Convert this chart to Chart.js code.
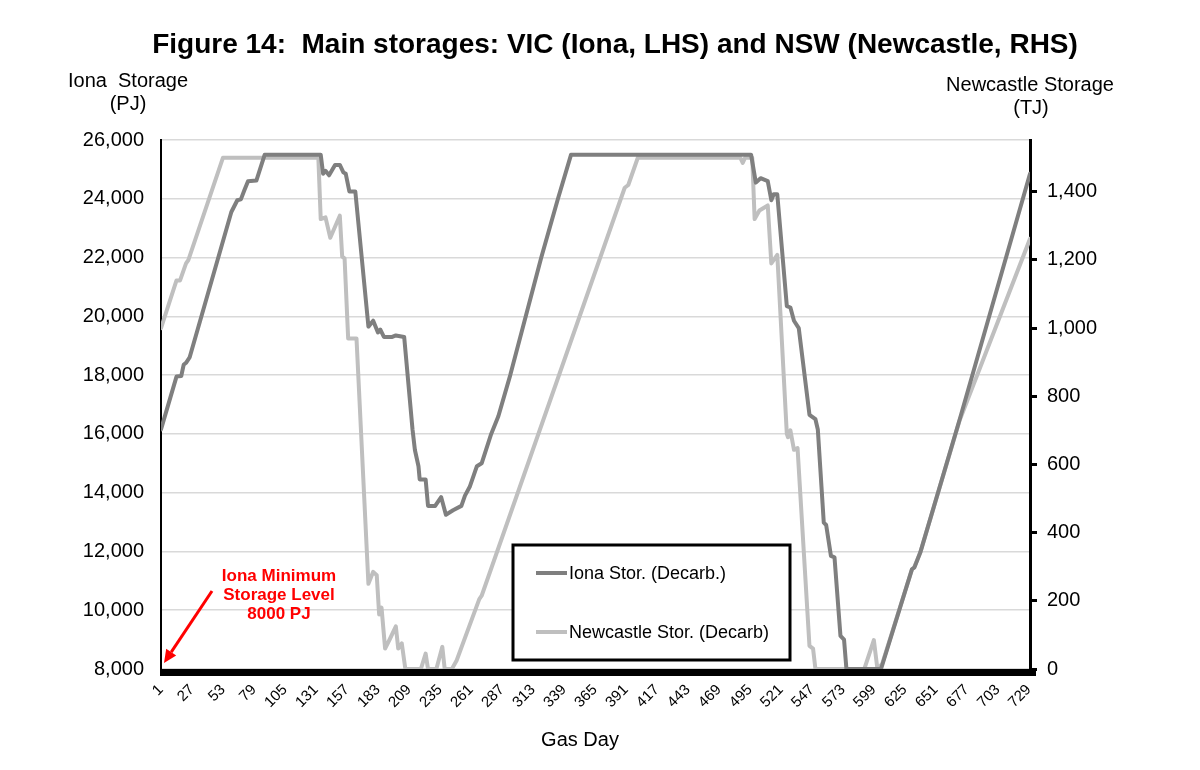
<!DOCTYPE html>
<html><head><meta charset="utf-8">
<script src="https://cdn.jsdelivr.net/npm/chart.js@4"></script>
<style>html,body{margin:0;padding:0;background:#fff;} canvas{display:block;}</style>
</head><body>
<canvas id="c" width="1200" height="770"></canvas>
<script>
const titleText = 'Figure 14:  Main storages: VIC (Iona, LHS) and NSW (Newcastle, RHS)';
const seriesLabels = ['Iona Stor. (Decarb.)', 'Newcastle Stor. (Decarb)'];
const tickDays = [1,27,53,79,105,131,157,183,209,235,261,287,313,339,365,391,417,443,469,495,521,547,573,599,625,651,677,703,729];

const ionaDays   = [1,14,18,20,22,25,60,65,68,71,74,81,88,135,137,139,142,147,151,154,156,159,164,175,179,183,185,188,195,198,205,212,214,217,218,223,225,231,236,240,242,246,253,256,260,266,270,278,284,294,307,320,334,345,496,500,504,510,513,515,518,526,529,532,536,545,550,552,557,559,563,566,571,574,576,605,631,633,638,671,730];
const ionaValues = [16150,17950,17970,18350,18420,18600,23550,23950,23980,24300,24600,24620,25500,25500,24850,24950,24800,25150,25150,24900,24850,24250,24250,19650,19850,19450,19550,19300,19300,19350,19300,16150,15450,14900,14450,14450,13550,13550,13850,13250,13300,13400,13550,13900,14200,14900,15000,16000,16600,18000,20000,22000,24000,25500,25500,24550,24700,24600,23950,24150,24150,20350,20300,19850,19600,16650,16500,16150,12980,12900,11850,11800,9130,9000,8000,8000,11400,11450,11970,16490,24850];

const newcastleDays   = [1,14,17,22,24,53,133,135,139,143,151,153,155,158,165,175,179,182,184,186,189,193,198,200,203,206,219,223,225,232,237,239,245,249,268,270,390,393,401,487,489,491,497,499,503,510,513,518,526,527,529,532,535,545,548,550,591,599,602,606,631,633,638,671,730];
const newcastleValues = [1000,1140,1140,1190,1200,1500,1500,1320,1325,1265,1330,1210,1205,970,970,250,285,275,160,180,60,88,125,60,75,0,0,45,0,0,65,0,0,25,205,215,1412,1420,1500,1500,1485,1500,1500,1320,1345,1360,1190,1215,690,680,700,643,648,68,60,0,0,85,0,15,292,300,342,730,1262];

const FONT = "'Liberation Sans', Arial, sans-serif";
Chart.defaults.font.family = FONT;
Chart.defaults.color = '#000';

const toPoints = (xs, ys) => xs.map((x, i) => ({x: x, y: ys[i]}));

const decor = {
  id: 'decor',
  afterDatasetsDraw(chart) {
    const {ctx, chartArea: a} = chart;
    ctx.save();
    ctx.fillStyle = '#000';
    ctx.fillRect(a.left - 1, a.bottom, a.right - a.left + 7, 7);
    ctx.restore();
  },
  afterDraw(chart) {
    const ctx = chart.ctx;
    ctx.save();
    ctx.fillStyle = '#000';
    ctx.textAlign = 'center';
    ctx.textBaseline = 'middle';
    ctx.font = 'bold 28px ' + FONT;
    ctx.fillText(titleText, 615, 45);
    ctx.font = '20px ' + FONT;
    ctx.fillText('Iona  Storage', 128, 81);
    ctx.fillText('(PJ)', 128, 104);
    ctx.fillText('Newcastle Storage', 1030, 85);
    ctx.fillText('(TJ)', 1031, 108);
    ctx.fillText('Gas Day', 580, 740);

    // legend box
    ctx.fillStyle = '#fff';
    ctx.fillRect(513, 545, 277, 115);
    ctx.strokeStyle = '#000';
    ctx.lineWidth = 3;
    ctx.strokeRect(513, 545, 277, 115);
    const ys = [573, 632];
    chart.data.datasets.forEach((ds, i) => {
      ctx.strokeStyle = ds.borderColor;
      ctx.lineWidth = 4;
      ctx.beginPath();
      ctx.moveTo(536, ys[i]);
      ctx.lineTo(567, ys[i]);
      ctx.stroke();
      ctx.fillStyle = '#000';
      ctx.textAlign = 'left';
      ctx.font = '18px ' + FONT;
      ctx.fillText(ds.label, 569, ys[i] + 1);
    });

    // annotation
    ctx.fillStyle = '#ff0000';
    ctx.textAlign = 'center';
    ctx.font = 'bold 17px ' + FONT;
    ctx.fillText('Iona Minimum', 279, 576);
    ctx.fillText('Storage Level', 279, 595);
    ctx.fillText('8000 PJ', 279, 614);
    ctx.strokeStyle = '#ff0000';
    ctx.lineWidth = 3;
    const x0 = 212, y0 = 591, x1 = 164, y1 = 663;
    const dx = x1 - x0, dy = y1 - y0, L = Math.hypot(dx, dy);
    const ux = dx / L, uy = dy / L;
    const hl = 13, hw = 6;
    ctx.beginPath();
    ctx.moveTo(x0, y0);
    ctx.lineTo(x1 - ux * hl, y1 - uy * hl);
    ctx.stroke();
    ctx.beginPath();
    ctx.moveTo(x1, y1);
    ctx.lineTo(x1 - ux * hl - uy * hw, y1 - uy * hl + ux * hw);
    ctx.lineTo(x1 - ux * hl + uy * hw, y1 - uy * hl - ux * hw);
    ctx.closePath();
    ctx.fill();
    ctx.restore();
  }
};

new Chart(document.getElementById('c'), {
  type: 'line',
  data: {
    datasets: [
      { label: seriesLabels[0], data: toPoints(ionaDays, ionaValues), yAxisID: 'y',
        borderColor: '#7f7f7f', borderWidth: 4, pointRadius: 0, tension: 0,
        borderJoinStyle: 'round', borderCapStyle: 'round', fill: false },
      { label: seriesLabels[1], data: toPoints(newcastleDays, newcastleValues), yAxisID: 'y1',
        borderColor: '#bfbfbf', borderWidth: 4, pointRadius: 0, tension: 0,
        borderJoinStyle: 'round', borderCapStyle: 'round', fill: false }
    ]
  },
  options: {
    responsive: false,
    animation: false,
    devicePixelRatio: 1,
    layout: { padding: { top: 140, left: 0, right: 0, bottom: 0 } },
    plugins: { legend: { display: false }, title: { display: false }, tooltip: { enabled: false } },
    scales: {
      x: {
        type: 'linear', min: 1, max: 730,
        afterBuildTicks: s => { s.ticks = tickDays.map(v => ({value: v})); },
        afterFit: s => { s.height = 101; },
        grid: { display: false, drawTicks: false },
        border: { display: false },
        ticks: { autoSkip: false, maxRotation: 45, minRotation: 45, padding: 12,
                 font: { size: 15 }, color: '#000', callback: v => String(v) }
      },
      y: {
        position: 'left', min: 8000, max: 26000,
        afterFit: s => { s.width = 161; },
        grid: { color: '#d9d9d9', lineWidth: 1.5, drawTicks: false },
        border: { display: true, color: '#000', width: 2 },
        ticks: { stepSize: 2000, padding: 17, font: { size: 20 }, color: '#000',
                 callback: v => Number(v).toLocaleString('en-US') }
      },
      y1: {
        position: 'right', min: 0, max: 1552,
        afterFit: s => { s.width = 170; },
        afterBuildTicks: s => { s.ticks = s.ticks.filter(t => t.value % 200 === 0); },
        grid: { drawOnChartArea: false, drawTicks: true, tickLength: 7, tickWidth: 3, tickColor: '#000' },
        border: { display: true, color: '#000', width: 3 },
        ticks: { stepSize: 200, padding: 10, font: { size: 20 }, color: '#000',
                 callback: v => Number(v).toLocaleString('en-US') }
      }
    }
  },
  plugins: [decor]
});
</script>
</body></html>
